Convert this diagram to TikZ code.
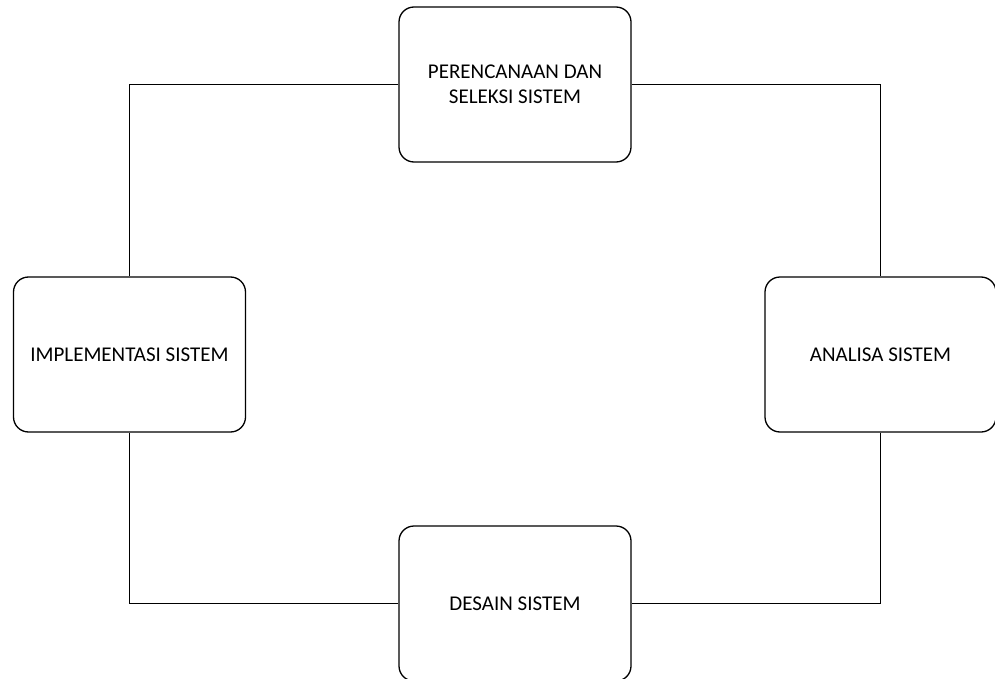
\documentclass[tikz,border=0pt]{standalone}
\usepackage{fontspec}
\setmainfont{Carlito}
\begin{document}
\begin{tikzpicture}[x=1pt,y=-1pt,
  stage/.style={draw=black, line width=1.3pt, rounded corners=15pt, fill=white,
    minimum width=232pt, minimum height=155pt, align=center, inner sep=0pt,
    font=\fontsize{21}{24.5}\selectfont},
  link/.style={draw=black, line width=1.2pt}]
  \useasboundingbox (0,0) rectangle (995,679);
  % four stages of the cycle
  \node[stage] (plan) at (515,84.5) {PERENCANAAN DAN\\SELEKSI SISTEM};
  \node[stage] (impl) at (129.5,354.5) {IMPLEMENTASI SISTEM};
  \node[stage, minimum width=231pt] (anal) at (880.5,354.5) {ANALISA SISTEM};
  \node[stage] (desn) at (515,603.5) {DESAIN SISTEM};
  % connectors between the stages
  \draw[link] (plan.west) -| (impl.north);
  \draw[link] (plan.east) -| (anal.north);
  \draw[link] (anal.south) |- (desn.east);
  \draw[link] (impl.south) |- (desn.west);
\end{tikzpicture}
\end{document}
